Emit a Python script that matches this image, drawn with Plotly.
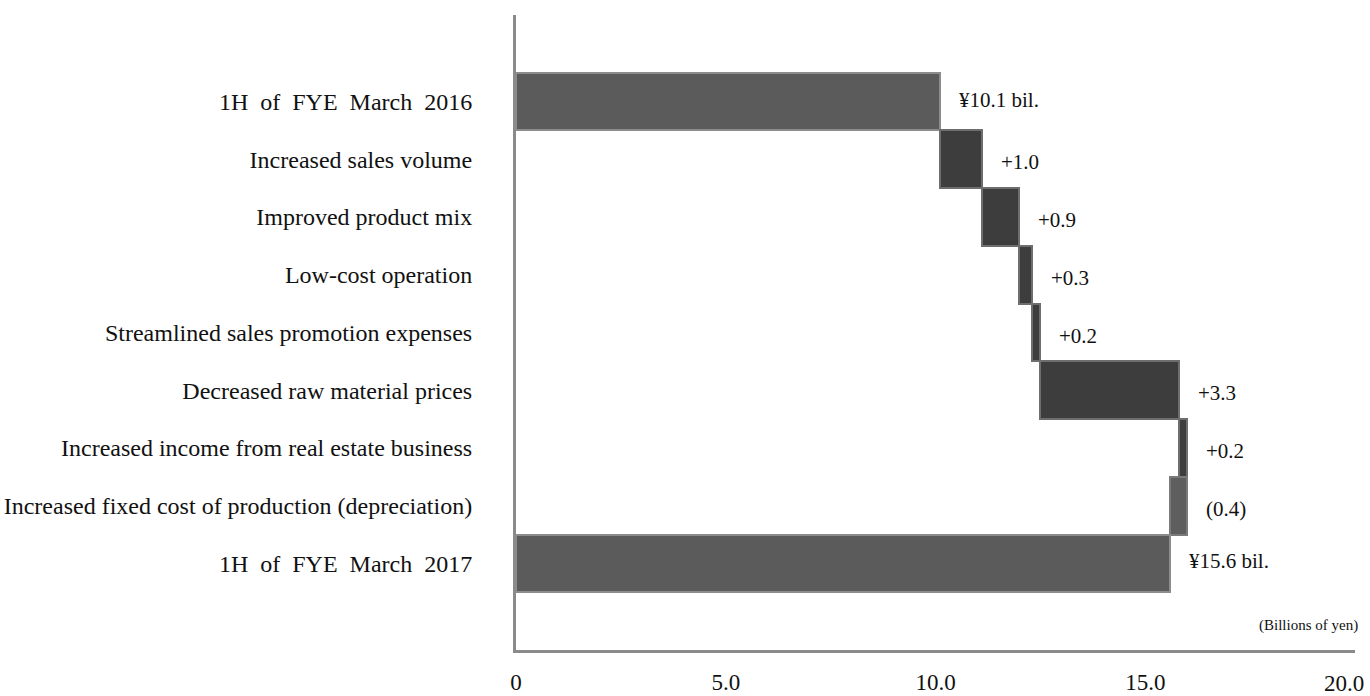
import plotly.graph_objects as go

categories = [
    "1H\u00a0 of\u00a0 FYE\u00a0 March\u00a0 2016",
    "Increased sales volume",
    "Improved product mix",
    "Low-cost operation",
    "Streamlined sales promotion expenses",
    "Decreased raw material prices",
    "Increased income from real estate business",
    "Increased fixed cost of production (depreciation)",
    "1H\u00a0 of\u00a0 FYE\u00a0 March\u00a0 2017",
]
values = [10.1, 1.0, 0.9, 0.3, 0.2, 3.3, 0.2, -0.4, 15.6]
measures = ["absolute", "relative", "relative", "relative", "relative",
            "relative", "relative", "relative", "total"]
x_ticks = [0, 5, 10, 15, 20]
x_tick_labels = ["0", "5.0", "10.0", "15.0", "20.0"]

SERIF = "Liberation Serif, Times New Roman, serif"
TICK_FONT = dict(family=SERIF, size=23, color="#111111")

fig = go.Figure(go.Waterfall(
    orientation="h",
    y=categories,
    x=[v if m != "total" else None for v, m in zip(values, measures)],
    measure=measures,
    connector=dict(visible=False),
    increasing=dict(marker=dict(color="#3d3d3d", line=dict(color="#6e6e6e", width=2))),
    decreasing=dict(marker=dict(color="#5e5e5e", line=dict(color="#7a7a7a", width=2))),
    totals=dict(marker=dict(color="#5b5b5b", line=dict(color="#8c8c8c", width=2))),
    hoverinfo="skip",
))

# value labels placed from the running totals
annotations = []
running = 0.0
for cat, v, m in zip(categories, values, measures):
    if m == "absolute":
        start, end = 0.0, v
        running = v
        label = f"¥{v:.1f} bil."
    elif m == "total":
        start, end = 0.0, running
        label = f"¥{running:.1f} bil."
    else:
        start, end = running, running + v
        running += v
        label = f"+{v:.1f}" if v >= 0 else f"({abs(v):.1f})"
    right = max(start, end)
    annotations.append(dict(
        x=right, y=cat, xref="x", yref="y", text=label, showarrow=False,
        xanchor="left", yanchor="middle", xshift=17,
        yshift=(-3 if m == "relative" else 2),
        font=dict(family=SERIF, size=21, color="#111111"),
    ))

# last x tick label kept inside the page (it sits at the right edge)
annotations.append(dict(
    x=x_ticks[-1], y=0, xref="x", yref="paper", text=x_tick_labels[-1],
    showarrow=False, xanchor="right", yanchor="middle", xshift=10, yshift=-33,
    borderpad=0, font=TICK_FONT,
))

annotations.append(dict(
    x=1.0, y=9, xref="paper", yref="y", text="(Billions of yen)", showarrow=False,
    xanchor="right", yanchor="middle", xshift=5, yshift=-4,
    font=dict(family=SERIF, size=15, color="#111111"),
))

fig.update_layout(
    width=1370, height=696,
    margin=dict(l=516, r=15, t=15, b=46),
    paper_bgcolor="white", plot_bgcolor="white",
    showlegend=False,
    waterfallgap=0,
    annotations=annotations,
    xaxis=dict(
        range=[0, 20], tickvals=x_ticks[:-1], ticktext=x_tick_labels[:-1],
        showgrid=False, zeroline=False, automargin=False,
        showline=True, linecolor="#8a8a8a", linewidth=3,
        ticks="", ticklabelstandoff=9, ticklabeloverflow="allow",
        tickfont=TICK_FONT,
    ),
    yaxis=dict(
        type="category", range=[9.5, -1.5],
        showgrid=False, zeroline=False, automargin=False,
        showline=True, linecolor="#8a8a8a", linewidth=3,
        ticks="", ticklabelstandoff=36,
        tickfont=dict(family=SERIF, size=24, color="#111111"),
    ),
)

fig.write_html("out.html")
